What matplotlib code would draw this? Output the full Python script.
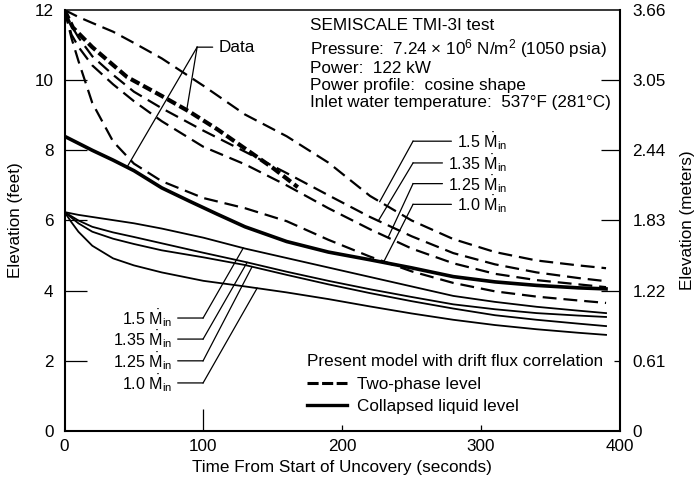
import numpy as np
import matplotlib
matplotlib.use("Agg")
import matplotlib.pyplot as plt
from matplotlib.lines import Line2D

plt.rcParams['font.family'] = ['Liberation Sans', 'DejaVu Sans']
plt.rcParams['mathtext.fontset'] = 'custom'
plt.rcParams['mathtext.rm'] = 'Liberation Sans'
plt.rcParams['mathtext.it'] = 'Liberation Sans:italic'
plt.rcParams['font.size'] = 12
plt.rcParams['lines.scale_dashes'] = False

# present model with drift flux correlation (time s, level ft)
t_model = [0, 5, 10, 20, 35, 50, 70, 100, 130, 160, 190, 220, 250, 280, 310, 340, 370, 390]
two_phase_150 = [12, 11.9, 11.8, 11.63, 11.38, 11.06, 10.62, 9.84, 9.02, 8.4, 7.65, 6.7, 6.0, 5.47, 5.1, 4.86, 4.72, 4.64]
two_phase_135 = [12, 11.55, 11.22, 10.68, 10.15, 9.67, 9.2, 8.56, 7.96, 7.35, 6.72, 6.1, 5.55, 5.07, 4.75, 4.52, 4.36, 4.27]
two_phase_125 = [12, 11.3, 10.95, 10.42, 9.88, 9.4, 8.83, 8.1, 7.6, 7.0, 6.35, 5.75, 5.2, 4.78, 4.48, 4.3, 4.18, 4.1]
two_phase_100 = [12, 11.2, 10.55, 9.35, 8.25, 7.62, 7.12, 6.64, 6.35, 5.98, 5.45, 4.97, 4.55, 4.22, 3.98, 3.83, 3.72, 3.65]
collapsed_150 = [6.24, 6.2, 6.16, 6.1, 6.01, 5.92, 5.77, 5.51, 5.2, 4.93, 4.66, 4.39, 4.12, 3.85, 3.68, 3.54, 3.43, 3.36]
collapsed_135 = [6.24, 6.12, 6.0, 5.82, 5.66, 5.53, 5.35, 5.08, 4.82, 4.54, 4.28, 4.04, 3.82, 3.61, 3.47, 3.36, 3.29, 3.25]
collapsed_125 = [6.24, 6.08, 5.92, 5.68, 5.48, 5.33, 5.15, 4.95, 4.73, 4.45, 4.18, 3.93, 3.7, 3.49, 3.3, 3.17, 3.06, 2.99]
collapsed_100 = [6.24, 5.95, 5.68, 5.28, 4.92, 4.72, 4.52, 4.28, 4.12, 3.95, 3.76, 3.55, 3.35, 3.17, 3.02, 2.9, 2.8, 2.74]

# SEMISCALE data
t_data_mix = [0, 6, 20, 45, 70, 90, 110, 130, 150, 168]
data_mix = [12, 11.5, 10.94, 10.09, 9.55, 9.1, 8.6, 8.05, 7.5, 6.95]
t_data_liq = [0, 10, 20, 35, 50, 70, 90, 110, 130, 160, 190, 220, 250, 280, 310, 340, 370, 390]
data_liq = [8.4, 8.2, 8.0, 7.72, 7.42, 6.93, 6.55, 6.18, 5.82, 5.4, 5.1, 4.88, 4.65, 4.4, 4.25, 4.15, 4.08, 4.05]

flow_labels = ['1.5', '1.35', '1.25', '1.0']
x_ticks = [0, 100, 200, 300, 400]
ft_ticks = [0, 2, 4, 6, 8, 10, 12]
m_labels = ['0', '0.61', '1.22', '1.83', '2.44', '3.05', '3.66']

info_lines = ['SEMISCALE TMI-3I test',
              'Pressure:  7.24 \u00d7 10$^{6}$ N/m$^{2}$ (1050 psia)',
              'Power:  122 kW',
              'Power profile:  cosine shape',
              'Inlet water temperature:  537\u00b0F (281\u00b0C)']

fig = plt.figure(figsize=(6.96, 4.79), dpi=100)
ax = fig.add_axes([0.0927, 0.1002, 0.798, 0.879])

dash = (0, (10, 5))
two_phase = [two_phase_150, two_phase_135, two_phase_125, two_phase_100]
collapsed = [collapsed_150, collapsed_135, collapsed_125, collapsed_100]
for y in two_phase:
    ax.plot(t_model, y, color='k', lw=1.6, ls=dash)
for y in collapsed:
    ax.plot(t_model, y, color='k', lw=1.3)
ax.plot(t_data_mix, data_mix, color='k', lw=3.0, ls=(0, (7, 3)))
ax.plot(t_data_liq, data_liq, color='k', lw=2.6)

ax.set_xlim(0, 400)
ax.set_ylim(0, 12)
ax.set_xticks(x_ticks)
ax.set_yticks(ft_ticks)
ax.tick_params(direction='in', width=0.9, color='k', labelsize=12.3)
ax.tick_params(axis='y', pad=8)
ax.tick_params(axis='x', pad=6)
for tk, L in zip(ax.xaxis.get_major_ticks(), [0, 16, 4.5, 4.5, 0]):
    tk.tick1line.set_markersize(L)
for tk, L in zip(ax.yaxis.get_major_ticks(), [0, 16, 16, 16, 16, 16, 0]):
    tk.tick1line.set_markersize(L)
for s in ax.spines.values():
    s.set_linewidth(1.5)
ax.spines['top'].set_linewidth(1.1)

ax2 = ax.twinx()
ax2.set_ylim(0, 12)
ax2.set_yticks(ft_ticks)
ax2.set_yticklabels(m_labels)
ax2.tick_params(direction='in', width=0.9, color='k', labelsize=12.3, pad=9)
for tk, L in zip(ax2.yaxis.get_major_ticks(), [0, 4, 14, 14, 14, 14, 0]):
    tk.tick2line.set_markersize(L)
for s in ax2.spines.values():
    s.set_visible(False)

ax.set_xlabel('Time From Start of Uncovery (seconds)', fontsize=12.3, labelpad=4)
ax.set_ylabel('Elevation (feet)', fontsize=12.3, labelpad=8)
ax2.set_ylabel('Elevation (meters)', fontsize=12.3, labelpad=10)

# info block
for line, yy in zip(info_lines, [11.57, 10.91, 10.34, 9.86, 9.37]):
    ax.text(177, yy, line, ha='left', va='center', fontsize=12.3)


def leader(text, text_xy, corner, tips, ha, size=11.6):
    ax.annotate(text, xy=corner, xytext=text_xy, ha=ha, va='center', fontsize=size,
                arrowprops=dict(arrowstyle='-', lw=0.9, color='k', shrinkA=2, shrinkB=0,
                                relpos=(1.0 if text_xy[0] < corner[0] else 0.0, 0.5)))
    for tip in tips:
        ax.plot([corner[0], tip[0]], [corner[1], tip[1]], color='k', lw=0.9)


# dashed-curve labels (right)
for lab, y, tx, row in zip(flow_labels, two_phase, [227, 226, 233, 230], [8.26, 7.64, 7.05, 6.46]):
    tip = (tx, np.interp(tx, t_model, y))
    leader(lab + r' $\dot{\mathrm{M}}_{\mathrm{in}}$', (319, row), (251, row), [tip], 'right')

# collapsed-curve labels (left)
for lab, y, tx, row in zip(flow_labels, collapsed, [128.7, 131.5, 135.1, 138.7], [3.22, 2.62, 2.0, 1.37]):
    tip = (tx, np.interp(tx, t_model, y))
    leader(lab + r' $\dot{\mathrm{M}}_{\mathrm{in}}$', (77.5, row), (99.8, row), [tip], 'right')

# data label
tips = [(88, np.interp(88, t_data_mix, data_mix)), (45, np.interp(45, t_data_liq, data_liq))]
leader('Data', (110.7, 10.94), (95.5, 10.94), tips, 'left', size=12.3)

handles = [Line2D([], [], color='k', lw=2.2, ls=(0, (8, 2.5))),
           Line2D([], [], color='k', lw=2.4)]
ax.legend(handles, ['Two-phase level', 'Collapsed liquid level'],
          title='Present model with drift flux correlation', loc='upper left',
          bbox_to_anchor=(0.437, 0.183), frameon=False, handlelength=2.3,
          handletextpad=0.6, labelspacing=0.45, borderpad=0, borderaxespad=0,
          alignment='left', fontsize=12.3, title_fontsize=12.3)

fig.savefig('out.png', dpi=100)
